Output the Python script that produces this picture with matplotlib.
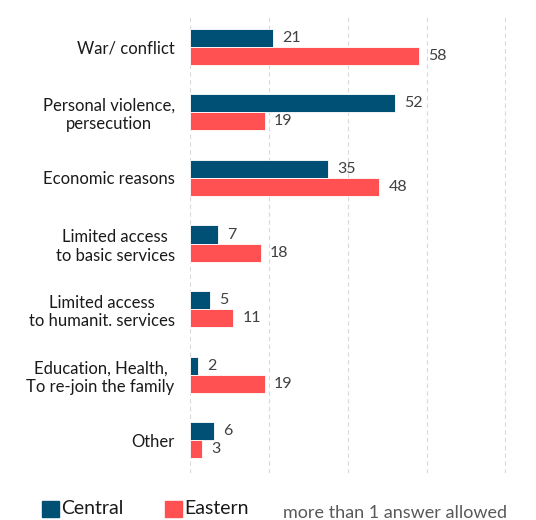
import numpy as np
import matplotlib.pyplot as plt
from matplotlib.patches import Rectangle

# reasons for leaving, share of respondents (%)
categories = ["War/ conflict", "Personal violence,\npersecution", "Economic reasons",
              "Limited access\nto basic services", "Limited access\nto humanit. services",
              "Education, Health,\nTo re-join the family", "Other"]
central = [21, 52, 35, 7, 5, 2, 6]
eastern = [58, 19, 48, 18, 11, 19, 3]

c_central = "#004f74"
c_eastern = "#ff5052"

plt.rcParams['font.family'] = ['Lato', 'DejaVu Sans']

fig = plt.figure(figsize=(5.36, 5.20), dpi=100)
ax = fig.add_axes([0.3545, 0.0904, 0.5915, 0.8826])

y = np.arange(len(categories))
h = 0.275
bc = ax.barh(y - h / 2, central, height=h, color=c_central, edgecolor="white", linewidth=0.6, zorder=3)
be = ax.barh(y + h / 2, eastern, height=h, color=c_eastern, edgecolor="white", linewidth=0.6, zorder=3)

for bars, vals in ((bc, central), (be, eastern)):
    for b, v in zip(bars, vals):
        ax.text(v + 2.3, b.get_y() + b.get_height() / 2, str(v), ha="left", va="center",
                fontsize=11.5, color="#404040")

ax.set_xlim(0, 80.4)
ax.set_ylim(len(categories) - 0.5, -0.5)
ax.set_xticks([0, 20, 40, 60, 80])
ax.set_xticklabels([])
ax.tick_params(axis="x", length=0)
ax.tick_params(axis="y", length=0, pad=11)
ax.set_yticks(y)
ax.set_yticklabels(categories, fontsize=12, color="#1a1a1a", multialignment="center")
ax.grid(axis="x", color="#d9d9d9", linestyle=(0, (4, 3)), linewidth=0.8, zorder=0)
for s in ax.spines.values():
    s.set_visible(False)

# legend drawn by hand along the bottom
fig.patches.append(Rectangle((42 / 536, 1 - 517 / 520), 17 / 536, 16 / 520,
                             transform=fig.transFigure, color=c_central))
fig.text(61 / 536, 1 - 509 / 520, "Central", fontsize=14, color="#1a1a1a", va="center")
fig.patches.append(Rectangle((165 / 536, 1 - 517 / 520), 17 / 536, 16 / 520,
                             transform=fig.transFigure, color=c_eastern))
fig.text(184 / 536, 1 - 509 / 520, "Eastern", fontsize=14, color="#1a1a1a", va="center")
fig.text(283 / 536, 1 - 513 / 520, "more than 1 answer allowed", fontsize=13,
         color="#595959", va="center")

fig.savefig("out.png", dpi=100)
